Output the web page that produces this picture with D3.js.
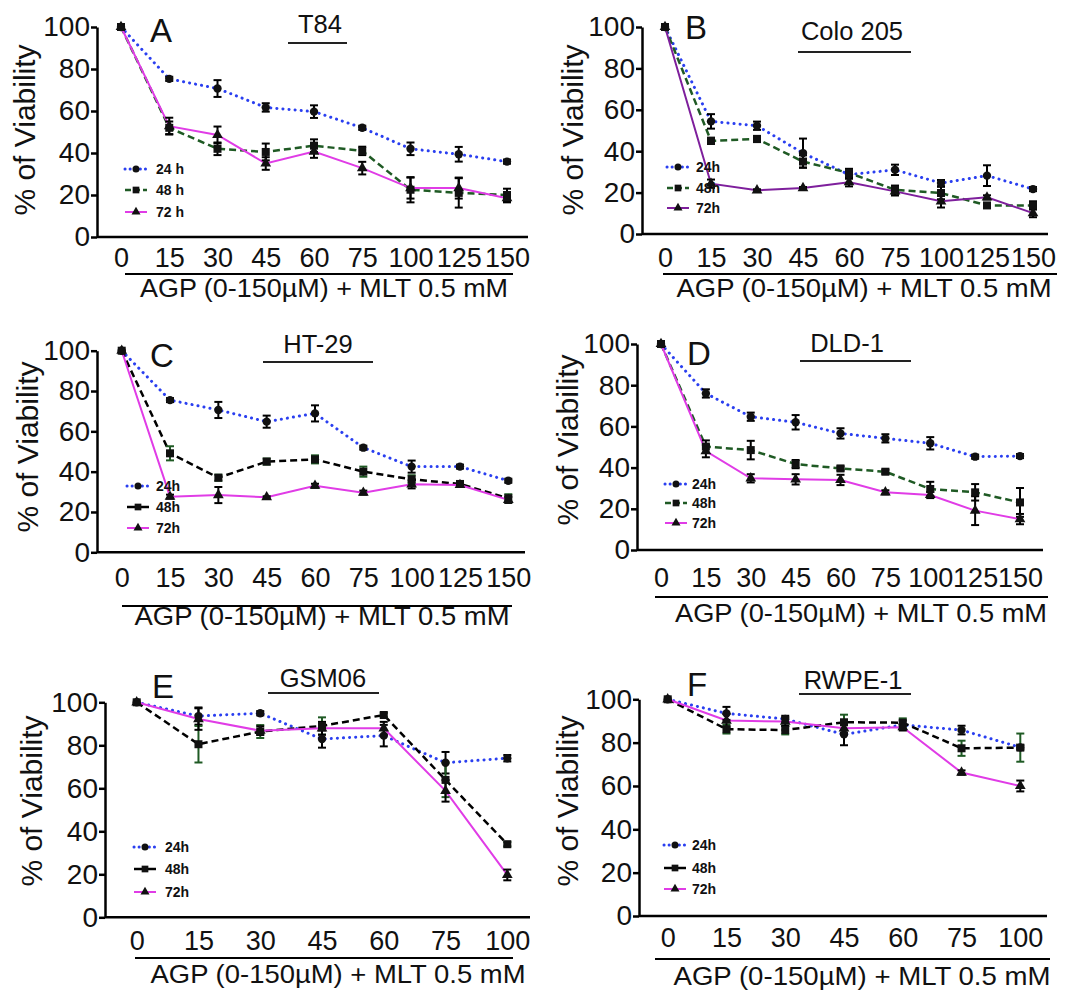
<!DOCTYPE html>
<html>
<head>
<meta charset="utf-8">
<script src="https://cdn.jsdelivr.net/npm/d3@7"></script>
<style>
body { margin: 0; background: #fff; }
svg text { font-family: "Liberation Sans", Arial, sans-serif; fill: #111; }
</style>
</head>
<body>
<svg id="chart" width="1069" height="990"></svg>
<script>
// dose categories (AGP, µM)
const doses9 = ["0", "15", "30", "45", "60", "75", "100", "125", "150"];
const doses7 = ["0", "15", "30", "45", "60", "75", "100"];
const yTicks = [0, 20, 40, 60, 80, 100];
const axisTitle = "AGP (0-150\u00B5M) + MLT 0.5 mM";

// A - T84
const t84_24 = [100, 75.3, 70.7, 61.7, 59.7, 52, 42, 39.4, 35.9];
const t84_48 = [100, 52, 42, 40.5, 43.5, 41, 22.5, 21, 20];
const t84_72 = [100, 52.8, 48.6, 35, 40.7, 32.8, 23.3, 23.3, 18.5];
const t84_24e = [0, 1, 4, 2, 3, 1, 3, 3.5, 1];
const t84_48e = [0, 3, 3, 4, 3, 2, 6, 7, 3];
const t84_72e = [0, 4, 4, 3, 3, 3, 5, 5, 2];

// B - Colo 205
const colo_24 = [100, 54.4, 52.3, 39.1, 28.7, 31, 24.6, 28.2, 21.7];
const colo_48 = [100, 45, 45.9, 35, 29.5, 21.4, 19.8, 13.8, 13.8];
const colo_72 = [100, 24.3, 21.1, 22.2, 25, 20.6, 15.8, 17.7, 10.1];
const colo_24e = [0, 3.5, 2, 7, 2, 2.5, 1.5, 5, 1];
const colo_48e = [0, 1.5, 1.5, 3, 2, 2, 3, 1, 2];
const colo_72e = [0, 2, 0.5, 0.5, 2, 2, 3, 1, 2];

// C - HT-29
const ht29_24 = [100, 75.5, 70.6, 64.8, 68.9, 51.9, 42.5, 42.5, 35.5];
const ht29_48 = [100, 49.1, 37, 45, 46.1, 40, 36.2, 33.9, 26.8];
const ht29_72 = [100, 27.6, 28.4, 27.3, 33, 29.6, 33.7, 33.4, 26];
const ht29_24e = [0, 1, 4, 3, 4, 1, 3, 1, 1];
const ht29_48e = [0, 3.5, 1.5, 1.5, 2, 2.5, 2, 1, 2];
const ht29_72e = [0, 1, 4, 0.5, 1, 1, 2, 1, 1.5];

// D - DLD-1
const dld_24 = [100, 76, 64.7, 62, 56.6, 54.2, 51.8, 45.3, 45.6];
const dld_48 = [100, 50.2, 48.5, 41.7, 39.6, 38, 29.6, 28, 23.1];
const dld_72 = [100, 48, 34.8, 34.3, 34, 28, 26.7, 19.1, 15];
const dld_24e = [0, 2, 2, 3.5, 2.5, 2, 3, 1, 1];
const dld_48e = [0, 3, 4.5, 2, 1, 1, 3.5, 4, 7];
const dld_72e = [0, 3, 2, 2.5, 2.5, 1, 1.5, 7, 2.5];

// E - GSM06
const gsm_24 = [100, 93.6, 94.9, 82.9, 84.5, 71.9, 74];
const gsm_48 = [100, 80.5, 86.4, 89, 94.1, 63.9, 34];
const gsm_72 = [100, 92.2, 86.8, 87.9, 87.9, 58.8, 19.7];
const gsm_24e = [0, 4, 1, 4, 5, 5, 1.5];
const gsm_48e = [0, 8.5, 3, 4, 1, 8, 1];
const gsm_72e = [0, 5, 2, 3, 3, 5, 2.5];

// F - RWPE-1
const rw_24 = [100, 93.5, 90.9, 83.8, 88.2, 85.8, 77.8];
const rw_48 = [100, 86.2, 85.8, 89.4, 89.2, 77.4, 77.7];
const rw_72 = [100, 90.2, 89.7, 86.6, 87.1, 66.2, 60];
const rw_24e = [0, 3, 1.5, 5, 2, 2, 1];
const rw_48e = [0, 2, 2, 3.5, 2, 3.5, 6.5];
const rw_72e = [0, 3, 2, 2, 1.5, 1, 2.5];

const labelsSpaced = ["24 h", "48 h", "72 h"];
const labelsTight = ["24h", "48h", "72h"];

const BLUE = "#2a3ff0", GREEN = "#1f5a24", MAGENTA = "#e03ce6", PURPLE = "#7e1f9c", BLACK = "#000";
const DOT = "0.1 6", DASH = "7 4";

const panels = [
    { letter: "A", title: "T84", doses: doses9, series: [t84_24, t84_48, t84_72], errs: [t84_24e, t84_48e, t84_72e],
      labels: labelsSpaced, colors: [BLUE, GREEN, MAGENTA], errColors: [BLACK, BLACK, BLACK],
      lay: { ax: 97, y100: 27, y0: 237, x0: 121, xN: 507, axEnd: 528, tickY: 267, ulY: 274, ulL: 125, ulR: 513,
             atY: 297, atC: 324, atW: 368, ylX: 35, ylY: 130, letX: 150, letY: 42, tC: 320, tY: 33, tuY: 43, tuL: 288, tuR: 347,
             lgX: 125, lgT: 156, lgY: [169, 190, 212] } },
    { letter: "B", title: "Colo 205", doses: doses9, series: [colo_24, colo_48, colo_72], errs: [colo_24e, colo_48e, colo_72e],
      labels: labelsTight, colors: [BLUE, GREEN, PURPLE], errColors: [BLACK, BLACK, BLACK],
      lay: { ax: 642, y100: 27, y0: 234, x0: 665, xN: 1033, axEnd: 1048, tickY: 267, ulY: 274, ulL: 663, ulR: 1057,
             atY: 297, atC: 864, atW: 375, ylX: 583, ylY: 130, letX: 685, letY: 39, tC: 852, tY: 40, tuY: 52, tuL: 798, tuR: 911,
             lgX: 667, lgT: 696, lgY: [167, 188, 208] } },
    { letter: "C", title: "HT-29", doses: doses9, series: [ht29_24, ht29_48, ht29_72], errs: [ht29_24e, ht29_48e, ht29_72e],
      labels: labelsTight, colors: [BLUE, BLACK, MAGENTA], errColors: [BLACK, GREEN, BLACK],
      lay: { ax: 97, y100: 350.7, y0: 552.3, x0: 121.7, xN: 508.3, axEnd: 525, tickY: 587, ulY: 606, ulL: 122, ulR: 512,
             atY: 625, atC: 322, atW: 375, ylX: 38, ylY: 447, letX: 150, letY: 367, tC: 318, tY: 353, tuY: 362, tuL: 263, tuR: 373,
             lgX: 127, lgT: 156, lgY: [486, 507, 528] } },
    { letter: "D", title: "DLD-1", doses: doses9, series: [dld_24, dld_48, dld_72], errs: [dld_24e, dld_48e, dld_72e],
      labels: labelsTight, colors: [BLUE, GREEN, MAGENTA], errColors: [BLACK, BLACK, BLACK],
      lay: { ax: 637, y100: 344, y0: 550, x0: 661, xN: 1020, axEnd: 1043, tickY: 587, ulY: 597, ulL: 655, ulR: 1048,
             atY: 622, atC: 861, atW: 372, ylX: 578, ylY: 440, letX: 687, letY: 365, tC: 847, tY: 352, tuY: 361, tuL: 800, tuR: 911,
             lgX: 665, lgT: 692, lgY: [484, 503, 523] } },
    { letter: "E", title: "GSM06", doses: doses7, series: [gsm_24, gsm_48, gsm_72], errs: [gsm_24e, gsm_48e, gsm_72e],
      labels: labelsTight, colors: [BLUE, BLACK, MAGENTA], errColors: [BLACK, GREEN, BLACK],
      lay: { ax: 105, y100: 702.3, y0: 917.3, x0: 136.7, xN: 507.3, axEnd: 530, tickY: 950, ulY: 958, ulL: 135, ulR: 513,
             atY: 983, atC: 338, atW: 375, ylX: 42, ylY: 801, letX: 152, letY: 698, tC: 323, tY: 687, tuY: 693, tuL: 268, tuR: 379,
             lgX: 134, lgT: 165, lgY: [847, 869, 892] } },
    { letter: "F", title: "RWPE-1", doses: doses7, series: [rw_24, rw_48, rw_72], errs: [rw_24e, rw_48e, rw_72e],
      labels: labelsTight, colors: [BLUE, BLACK, MAGENTA], errColors: [BLACK, GREEN, BLACK],
      lay: { ax: 639, y100: 699.3, y0: 916, x0: 667.7, xN: 1020.3, axEnd: 1047, tickY: 947, ulY: 959, ulL: 655, ulR: 1050,
             atY: 985, atC: 862, atW: 377, ylX: 578, ylY: 801, letX: 687, letY: 696, tC: 853, tY: 689, tuY: 694, tuL: 799, tuR: 911,
             lgX: 664, lgT: 692, lgY: [845, 868, 889] } }
];

const dashes = [DOT, DASH, null];
const widths = [3, 2.5, 2];
const symbols = [d3.symbolCircle, d3.symbolSquare, d3.symbolTriangle];
const symSize = [55, 64, 50];

const svg = d3.select("#chart");

function DrawPanel(p) {
    const L = p.lay;
    const g = svg.append("g");

    const x = d3.scalePoint().domain(p.doses).range([L.x0, L.xN]);
    const y = d3.scaleLinear().domain([0, 100]).range([L.y0, L.y100]);

    // y axis
    g.append("g")
        .attr("transform", `translate(${L.ax},0)`)
        .call(d3.axisLeft(y).tickValues(yTicks).tickSize(6).tickPadding(1).tickSizeOuter(0))
        .call(a => a.selectAll("text").attr("font-size", 28))
        .call(a => a.selectAll("line, path").attr("stroke", "#000").attr("stroke-width", 2.5));

    // x axis line
    g.append("line")
        .attr("x1", L.ax).attr("x2", L.axEnd)
        .attr("y1", y(0)).attr("y2", y(0))
        .attr("stroke", "#000").attr("stroke-width", 2.5);

    // x tick labels
    g.append("g")
        .attr("transform", `translate(0,${L.tickY})`)
        .call(d3.axisBottom(x).tickSize(0).tickPadding(0))
        .call(a => a.select(".domain").remove())
        .selectAll("text").attr("y", 0).attr("dy", 0).attr("font-size", 27);

    // underline + axis title
    g.append("line").attr("x1", L.ulL).attr("x2", L.ulR).attr("y1", L.ulY).attr("y2", L.ulY)
        .attr("stroke", "#000").attr("stroke-width", 1.8);
    g.append("text").attr("x", L.atC).attr("y", L.atY).attr("text-anchor", "middle")
        .attr("font-size", 25).attr("textLength", L.atW).attr("lengthAdjust", "spacingAndGlyphs")
        .text(axisTitle);

    // y label
    g.append("text")
        .attr("transform", `translate(${L.ylX},${L.ylY}) rotate(-90)`)
        .attr("text-anchor", "middle").attr("font-size", 30)
        .text("% of Viability");

    // panel letter and cell line title
    g.append("text").attr("x", L.letX).attr("y", L.letY).attr("font-size", 33).text(p.letter);
    g.append("text").attr("x", L.tC).attr("y", L.tY).attr("text-anchor", "middle").attr("font-size", 25.5).text(p.title);
    g.append("line").attr("x1", L.tuL).attr("x2", L.tuR).attr("y1", L.tuY).attr("y2", L.tuY)
        .attr("stroke", "#222").attr("stroke-width", 2);

    const line = d3.line().x((d, i) => x(p.doses[i])).y(d => y(d));

    // lines
    p.series.forEach((s, k) => {
        g.append("path")
            .attr("d", line(s))
            .attr("fill", "none")
            .attr("stroke", p.colors[k])
            .attr("stroke-width", widths[k])
            .attr("stroke-dasharray", dashes[k])
            .attr("stroke-linecap", k == 0 ? "round" : "butt");
    });

    // error bars
    p.series.forEach((s, k) => {
        const eg = g.append("g").attr("stroke", p.errColors[k]).attr("stroke-width", 2);
        s.forEach((v, i) => {
            const e = p.errs[k][i];
            if (!e) return;
            const cx = x(p.doses[i]);
            eg.append("line").attr("x1", cx).attr("x2", cx).attr("y1", y(v - e)).attr("y2", y(v + e));
            eg.append("line").attr("x1", cx - 4).attr("x2", cx + 4).attr("y1", y(v - e)).attr("y2", y(v - e));
            eg.append("line").attr("x1", cx - 4).attr("x2", cx + 4).attr("y1", y(v + e)).attr("y2", y(v + e));
        });
    });

    // markers
    p.series.forEach((s, k) => {
        g.append("g")
            .selectAll("path")
            .data(s)
            .enter()
            .append("path")
                .attr("transform", (d, i) => `translate(${x(p.doses[i])},${y(d)})`)
                .attr("d", d3.symbol().type(symbols[k]).size(symSize[k]))
                .attr("fill", "#111");
    });

    // legend
    p.labels.forEach((lab, k) => {
        const ly = L.lgY[k];
        g.append("line")
            .attr("x1", L.lgX).attr("x2", L.lgX + 22).attr("y1", ly).attr("y2", ly)
            .attr("stroke", p.colors[k]).attr("stroke-width", widths[k])
            .attr("stroke-dasharray", k == 0 ? "0.1 5" : (k == 1 && p.colors[1] != BLACK ? "6 3" : null))
            .attr("stroke-linecap", k == 0 ? "round" : "butt");
        g.append("path")
            .attr("transform", `translate(${L.lgX + 11},${ly})`)
            .attr("d", d3.symbol().type(symbols[k]).size(symSize[k] * 0.7))
            .attr("fill", "#111");
        g.append("text")
            .attr("x", L.lgT).attr("y", ly + 5)
            .attr("font-size", 14).attr("font-weight", "bold")
            .text(lab);
    });
}

panels.forEach(p => DrawPanel(p));
</script>
</body>
</html>
